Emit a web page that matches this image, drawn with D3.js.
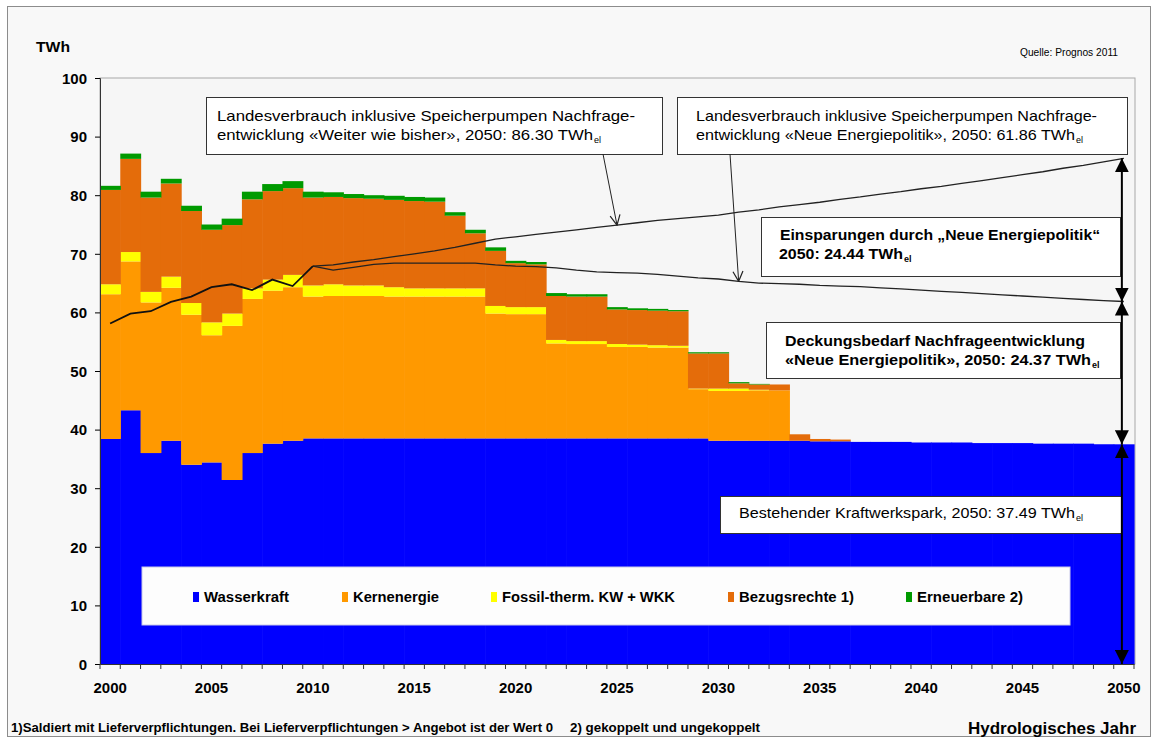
<!DOCTYPE html>
<html>
<head>
<meta charset="utf-8">
<script src="https://cdn.jsdelivr.net/npm/d3@7"></script>
<style>
    body { margin: 0; background: #ffffff; }
    svg { font-family: "Liberation Sans", Arial, sans-serif; }
    .axis-label { font-size: 15px; font-weight: bold; fill: #000; }
    .legend-label { font-size: 14px; font-weight: bold; fill: #000; }
</style>
</head>
<body>
<svg id="chart" width="1157" height="742"></svg>
<script>

// Title Chart Data
// Values, TWh per hydrological year
var years = [2000, 2001, 2002, 2003, 2004, 2005, 2006, 2007, 2008, 2009,
    2010, 2011, 2012, 2013, 2014, 2015, 2016, 2017, 2018, 2019,
    2020, 2021, 2022, 2023, 2024, 2025, 2026, 2027, 2028, 2029,
    2030, 2031, 2032, 2033, 2034, 2035, 2036, 2037, 2038, 2039,
    2040, 2041, 2042, 2043, 2044, 2045, 2046, 2047, 2048, 2049, 2050];

var wasserkraft = [38.4, 43.3, 36.0, 38.1, 34.0, 34.4, 31.4, 36.0, 37.6, 38.1,
    38.5, 38.5, 38.5, 38.5, 38.5, 38.5, 38.5, 38.5, 38.5, 38.5,
    38.5, 38.5, 38.5, 38.5, 38.5, 38.5, 38.5, 38.5, 38.5, 38.5,
    38.1, 38.1, 38.1, 38.1, 38.1, 38.0, 38.0, 37.9, 37.9, 37.9,
    37.8, 37.8, 37.8, 37.7, 37.7, 37.7, 37.6, 37.6, 37.6, 37.5, 37.49];

var kernenergie = [24.7, 25.4, 25.7, 26.1, 25.6, 21.7, 26.3, 26.3, 26.1, 26.2,
    24.2, 24.3, 24.3, 24.3, 24.2, 24.2, 24.2, 24.2, 24.2, 21.3,
    21.2, 21.2, 16.2, 16.1, 16.1, 15.6, 15.6, 15.5, 15.5, 8.4,
    8.5, 8.5, 8.6, 8.6, 0, 0, 0, 0, 0, 0,
    0, 0, 0, 0, 0, 0, 0, 0, 0, 0, 0];

var fossil = [1.7, 1.6, 1.8, 1.9, 2.0, 2.2, 2.1, 1.8, 1.9, 2.1,
    1.9, 2.0, 1.8, 1.8, 1.6, 1.4, 1.4, 1.4, 1.4, 1.3,
    1.2, 1.2, 0.6, 0.5, 0.5, 0.5, 0.4, 0.4, 0.3, 0.1,
    0.4, 0.4, 0.1, 0, 0, 0, 0, 0, 0, 0,
    0, 0, 0, 0, 0, 0, 0, 0, 0, 0, 0];

var bezugsrechte = [16.1, 15.9, 16.1, 15.9, 15.7, 15.8, 15.1, 15.2, 15.1, 14.8,
    15.0, 14.9, 14.9, 14.8, 14.9, 14.9, 14.8, 12.4, 9.4, 9.4,
    7.5, 7.3, 7.5, 7.6, 7.6, 5.9, 5.9, 5.9, 5.9, 6.0,
    6.0, 0.9, 0.9, 1.0, 1.1, 0.4, 0.3, 0, 0, 0,
    0, 0, 0, 0, 0, 0, 0, 0, 0, 0, 0];

var erneuerbare = [0.7, 0.9, 1.0, 0.8, 0.9, 0.9, 1.1, 1.3, 1.2, 1.2,
    1.0, 0.8, 0.7, 0.6, 0.7, 0.7, 0.7, 0.6, 0.6, 0.6,
    0.4, 0.4, 0.5, 0.4, 0.4, 0.4, 0.3, 0.3, 0.2, 0.2,
    0.2, 0.2, 0.1, 0, 0, 0, 0, 0, 0, 0,
    0, 0, 0, 0, 0, 0, 0, 0, 0, 0, 0];

// Landesverbrauch 2000-2010 (observed)
var verbrauchIst = [58.1, 59.8, 60.2, 61.8, 62.7, 64.3, 64.8, 63.8, 65.6, 64.5, 67.9];

// Landesverbrauch 2010-2050, "Weiter wie bisher"
var verbrauchWwb = [67.9, 68.1, 68.6, 69.0, 69.5, 70.0, 70.5, 71.1, 71.8, 72.5,
    72.9, 73.3, 73.7, 74.1, 74.5, 74.9, 75.3, 75.7, 76.0, 76.3,
    76.6, 77.1, 77.5, 78.0, 78.4, 78.8, 79.3, 79.7, 80.2, 80.6,
    81.1, 81.5, 82.0, 82.5, 83.0, 83.5, 84.0, 84.6, 85.1, 85.7, 86.3];

// Landesverbrauch 2010-2050, "Neue Energiepolitik"
var verbrauchNep = [67.9, 67.2, 67.7, 68.2, 68.4, 68.4, 68.4, 68.4, 68.4, 68.1,
    67.9, 67.8, 67.6, 67.2, 66.9, 66.8, 66.7, 66.5, 66.2, 65.9,
    65.7, 65.3, 65.0, 64.9, 64.8, 64.6, 64.5, 64.4, 64.2, 64.0,
    63.8, 63.6, 63.4, 63.2, 63.0, 62.8, 62.6, 62.4, 62.2, 62.0, 61.86];

var yTicks = [0, 10, 20, 30, 40, 50, 60, 70, 80, 90, 100];
var xLabels = [2000, 2005, 2010, 2015, 2020, 2025, 2030, 2035, 2040, 2045, 2050];

var seriesKeys = ["wasserkraft", "kernenergie", "fossil", "bezugsrechte", "erneuerbare"];
var seriesNames = ["Wasserkraft", "Kernenergie", "Fossil-therm. KW + WKK", "Bezugsrechte 1)", "Erneuerbare 2)"];
var seriesColors = ["#0000ff", "#ff9900", "#ffff00", "#e46c0a", "#009a00"];

// 2050 markers for the right hand double arrows
var endMarks = [86.3, 61.86, 37.49, 0];

// Title Setup
var svg = d3.select("#chart");

var x = d3.scaleBand().domain(years).range([100, 1134]).padding(0);
var y = d3.scaleLinear().domain([0, 100]).range([664, 78]);

var xMid = function (yr) { return x(yr) + x.bandwidth() / 2; };

var table = years.map(function (yr, i) {
    return {
        year: yr,
        wasserkraft: wasserkraft[i],
        kernenergie: kernenergie[i],
        fossil: fossil[i],
        bezugsrechte: bezugsrechte[i],
        erneuerbare: erneuerbare[i]
    };
});

var stacked = d3.stack().keys(seriesKeys)(table);

// markers
var defs = svg.append("defs");

defs.append("marker")
    .attr("id", "open-arrow")
    .attr("viewBox", "0 0 12 12")
    .attr("refX", 11).attr("refY", 6)
    .attr("markerWidth", 12).attr("markerHeight", 12)
    .attr("markerUnits", "userSpaceOnUse")
    .attr("orient", "auto")
    .append("path")
    .attr("d", "M1,1 L11,6 L1,11")
    .attr("fill", "none")
    .attr("stroke", "#222")
    .attr("stroke-width", 1.2);

defs.append("marker")
    .attr("id", "solid-arrow")
    .attr("viewBox", "0 0 12 12")
    .attr("refX", 12).attr("refY", 6)
    .attr("markerWidth", 14).attr("markerHeight", 14)
    .attr("markerUnits", "userSpaceOnUse")
    .attr("orient", "auto-start-reverse")
    .append("path")
    .attr("d", "M0,0 L12,6 L0,12 Z")
    .attr("fill", "#000");

// Title Frame
svg.append("rect")
    .attr("x", 7.5).attr("y", 6.5)
    .attr("width", 1143).attr("height", 730)
    .attr("fill", "#f8f8f8")
    .attr("stroke", "#8c8c8c");

svg.append("rect")
    .attr("x", 100).attr("y", 78)
    .attr("width", 1035).attr("height", 586)
    .attr("fill", "#f6f6f6")
    .attr("stroke", "#a8a8a8");

// Title Stacked Columns
svg.append("g")
    .selectAll("g")
    .data(stacked)
    .join("g")
    .attr("fill", function (d, i) { return seriesColors[i]; })
    .selectAll("rect")
    .data(function (d) { return d.filter(function (p) { return p[1] - p[0] > 0; }); })
    .join("rect")
    .attr("x", function (d) { return x(d.data.year); })
    .attr("width", x.bandwidth() + 0.6)
    .attr("y", function (d) { return y(d[1]); })
    .attr("height", function (d) { return y(d[0]) - y(d[1]); });

// Title Legend
var legend = svg.append("g");

legend.append("rect")
    .attr("x", 142).attr("y", 567)
    .attr("width", 928).attr("height", 58)
    .attr("fill", "#fdfdfd")
    .attr("stroke", "#c8c8e8");

var legendX = [193, 342, 491, 728, 906];
var legendW = [85, 86, 173, 115, 106];

seriesNames.forEach(function (name, i) {
    legend.append("rect")
        .attr("x", legendX[i]).attr("y", 592)
        .attr("width", 6).attr("height", 10)
        .attr("fill", seriesColors[i]);
    legend.append("text")
        .attr("x", legendX[i] + 11).attr("y", 602)
        .attr("class", "legend-label")
        .attr("textLength", legendW[i])
        .attr("lengthAdjust", "spacingAndGlyphs")
        .text(name);
});

// Title Consumption Lines
var line = d3.line()
    .x(function (d) { return xMid(d[0]); })
    .y(function (d) { return y(d[1]); });

var istPts = verbrauchIst.map(function (v, i) { return [years[i], v]; });
var wwbPts = verbrauchWwb.map(function (v, i) { return [years[i + 10], v]; });
var nepPts = verbrauchNep.map(function (v, i) { return [years[i + 10], v]; });

svg.append("path")
    .attr("d", line(wwbPts))
    .attr("fill", "none")
    .attr("stroke", "#222")
    .attr("stroke-width", 1.3);

svg.append("path")
    .attr("d", line(nepPts))
    .attr("fill", "none")
    .attr("stroke", "#222")
    .attr("stroke-width", 1.3);

svg.append("path")
    .attr("d", line(istPts))
    .attr("fill", "none")
    .attr("stroke", "#111")
    .attr("stroke-width", 1.8);

// Title Axes
var yAxis = svg.append("g")
    .attr("transform", "translate(100,0)")
    .call(d3.axisLeft(y).tickValues(yTicks).tickSize(5).tickPadding(8));

yAxis.select(".domain").attr("stroke", "#333");
yAxis.selectAll("text").attr("class", "axis-label").attr("dy", "0.35em");

var xAxis = svg.append("g")
    .attr("transform", "translate(0,664)")
    .call(d3.axisBottom(x).tickValues(xLabels).tickSize(0).tickPadding(18));

xAxis.select(".domain").attr("stroke", "#333");
xAxis.selectAll("text").attr("class", "axis-label");

// category boundary ticks
svg.append("g")
    .selectAll("line")
    .data(years.concat([null]))
    .join("line")
    .attr("x1", function (d) { return d === null ? x.range()[1] : x(d); })
    .attr("x2", function (d) { return d === null ? x.range()[1] : x(d); })
    .attr("y1", 664).attr("y2", 669)
    .attr("stroke", "#333");

// Title Texts
svg.append("text")
    .attr("x", 36).attr("y", 52)
    .attr("class", "axis-label")
    .attr("textLength", 34)
    .attr("lengthAdjust", "spacingAndGlyphs")
    .text("TWh");

svg.append("text")
    .attr("x", 1020).attr("y", 56)
    .style("font-size", "10px")
    .attr("textLength", 98)
    .attr("lengthAdjust", "spacingAndGlyphs")
    .text("Quelle: Prognos 2011");

svg.append("text")
    .attr("x", 11).attr("y", 732)
    .style("font-size", "12px").style("font-weight", "bold")
    .attr("textLength", 542)
    .attr("lengthAdjust", "spacingAndGlyphs")
    .text("1)Saldiert mit Lieferverpflichtungen. Bei Lieferverpflichtungen > Angebot ist der Wert 0");

svg.append("text")
    .attr("x", 570).attr("y", 732)
    .style("font-size", "12px").style("font-weight", "bold")
    .attr("textLength", 190)
    .attr("lengthAdjust", "spacingAndGlyphs")
    .text("2) gekoppelt und ungekoppelt");

svg.append("text")
    .attr("x", 968).attr("y", 734)
    .style("font-size", "16px").style("font-weight", "bold")
    .attr("textLength", 168)
    .attr("lengthAdjust", "spacingAndGlyphs")
    .text("Hydrologisches Jahr");

// Title Note Box
// Draws a white annotation box with one or two text lines, last one gets the "el" subscript
function noteBox(box, lines, bold) {
    var g = svg.append("g");

    g.append("rect")
        .attr("x", box[0] + 0.5).attr("y", box[1] + 0.5)
        .attr("width", box[2]).attr("height", box[3])
        .attr("fill", "#ffffff")
        .attr("stroke", "#333");

    lines.forEach(function (l, i) {
        g.append("text")
            .attr("x", l.x).attr("y", l.y)
            .style("font-size", "15px")
            .style("font-weight", bold ? "bold" : "normal")
            .attr("textLength", l.w)
            .attr("lengthAdjust", "spacingAndGlyphs")
            .text(l.text);

        if (i === lines.length - 1) {
            g.append("text")
                .attr("x", l.x + l.w + 1).attr("y", l.y + 3)
                .style("font-size", "9px")
                .style("font-weight", bold ? "bold" : "normal")
                .text("el");
        }
    });
}

noteBox([206, 97, 456, 57], [
    { x: 217, y: 121, w: 418, text: "Landesverbrauch inklusive Speicherpumpen Nachfrage-" },
    { x: 217, y: 140, w: 376, text: "entwicklung «Weiter wie bisher», 2050: 86.30 TWh" }
], false);

noteBox([677, 97, 450, 57], [
    { x: 696, y: 121, w: 401, text: "Landesverbrauch inklusive Speicherpumpen Nachfrage-" },
    { x: 696, y: 140, w: 379, text: "entwicklung «Neue Energiepolitik», 2050: 61.86 TWh" }
], false);

noteBox([761, 217, 359, 59], [
    { x: 780, y: 240, w: 320, text: "Einsparungen durch „Neue Energiepolitik“" },
    { x: 779, y: 259, w: 124, text: "2050: 24.44 TWh" }
], true);

noteBox([766, 322, 354, 56], [
    { x: 785, y: 346, w: 300, text: "Deckungsbedarf Nachfrageentwicklung" },
    { x: 785, y: 365, w: 306, text: "«Neue Energiepolitik», 2050: 24.37 TWh" }
], true);

noteBox([720, 496, 401, 37], [
    { x: 739, y: 518, w: 336, text: "Bestehender Kraftwerkspark, 2050: 37.49 TWh" }
], false);

// Title Pointer Arrows
svg.append("line")
    .attr("x1", 603).attr("y1", 154)
    .attr("x2", xMid(2025)).attr("y2", y(verbrauchWwb[15]))
    .attr("stroke", "#222")
    .attr("marker-end", "url(#open-arrow)");

svg.append("line")
    .attr("x1", 730).attr("y1", 154)
    .attr("x2", xMid(2031)).attr("y2", y(verbrauchNep[21]))
    .attr("stroke", "#222")
    .attr("marker-end", "url(#open-arrow)");

// Title Double Arrows 2050
var arrowX = xMid(2050) - 2;

for (var k = 0; k < endMarks.length - 1; k++) {
    svg.append("line")
        .attr("x1", arrowX).attr("y1", y(endMarks[k + 1]))
        .attr("x2", arrowX).attr("y2", y(endMarks[k]))
        .attr("stroke", "#000")
        .attr("stroke-width", 2)
        .attr("marker-start", "url(#solid-arrow)")
        .attr("marker-end", "url(#solid-arrow)");
}

</script>
</body>
</html>
